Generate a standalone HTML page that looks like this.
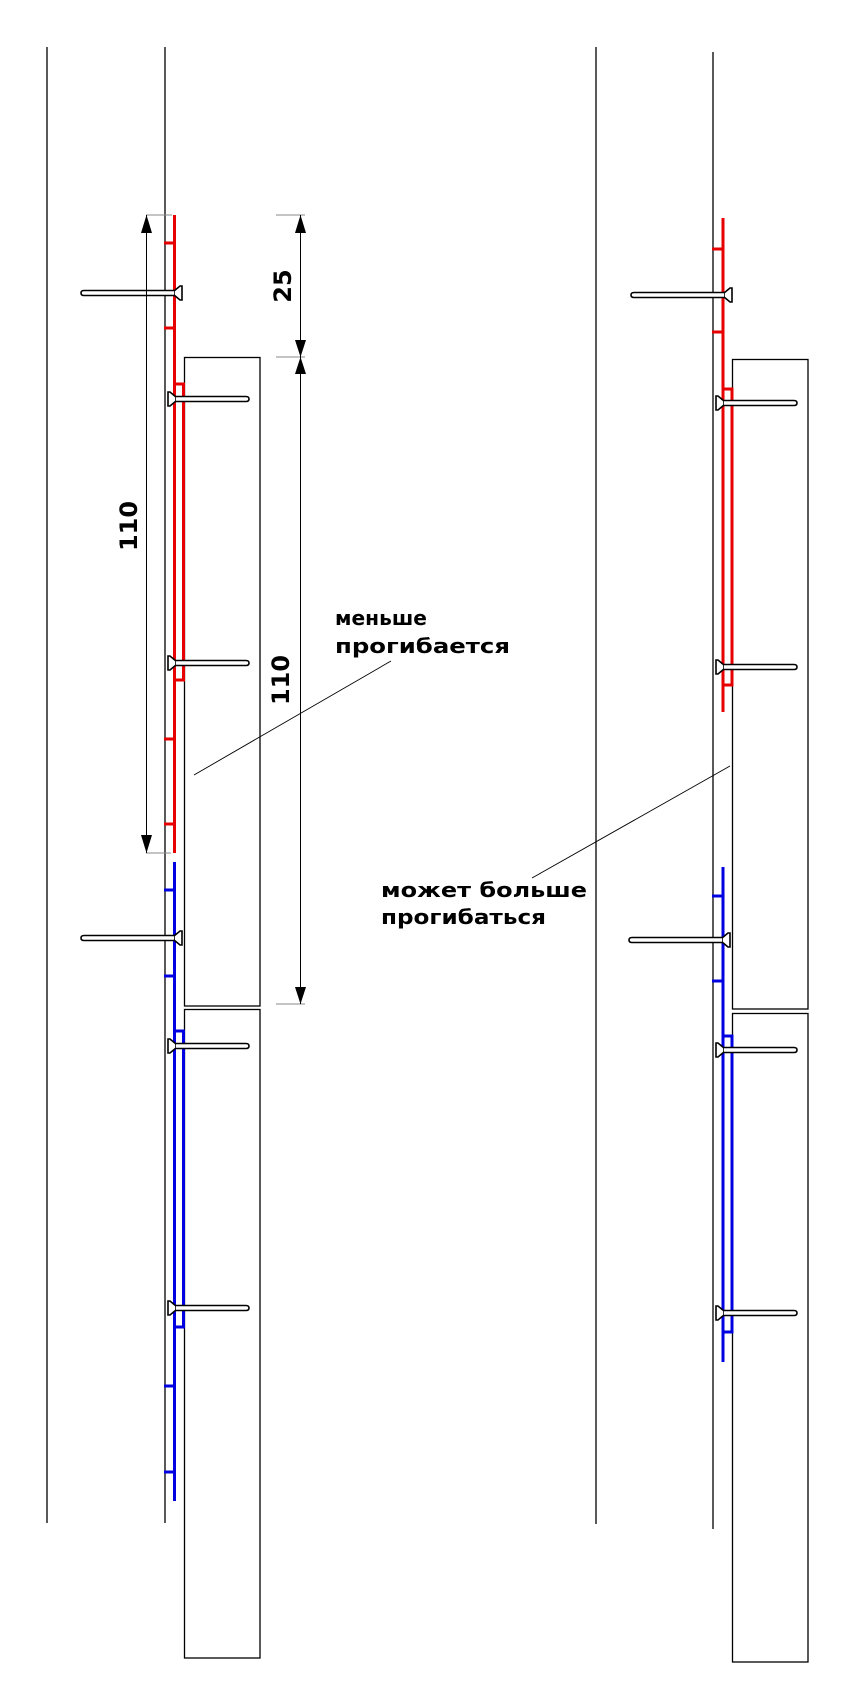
<!DOCTYPE html>
<html><head><meta charset="utf-8"><style>
html,body{margin:0;padding:0;background:#fff;}
svg{display:block;}
text{font-family:"DejaVu Sans","Liberation Sans",sans-serif;font-weight:bold;fill:#000;}
</style></head><body>
<svg width="855" height="1708" viewBox="0 0 855 1708" xmlns="http://www.w3.org/2000/svg">
<defs>
<g id="nL">
<path d="M0,-7 L0,7 L2,7 L8,2 L8,-2 L2,-7 Z" fill="#fff" stroke="#000" stroke-width="1.6"/>
<path d="M8,-2.5 L78,-2.5 Q81,-2.5 81,0 Q81,2.5 78,2.5 L8,2.5" fill="#fff" stroke="#000" stroke-width="1.6"/>
</g>
<g id="nR">
<path d="M0,-7 L0,7 L-2,7 L-8,2 L-8,-2 L-2,-7 Z" fill="#fff" stroke="#000" stroke-width="1.6"/>
<path d="M-8,-2.5 L-98,-2.5 Q-101,-2.5 -101,0 Q-101,2.5 -98,2.5 L-8,2.5" fill="#fff" stroke="#000" stroke-width="1.6"/>
</g>
</defs>
<g stroke="#000" stroke-width="1.3" fill="none">
<line x1="47" y1="47" x2="47" y2="1523"/>
<line x1="165" y1="47" x2="165" y2="1523"/>
<rect x="184.5" y="357.5" width="75.5" height="648.5"/>
<rect x="184.5" y="1009.5" width="75.5" height="648.5"/>
<line x1="596" y1="47" x2="596" y2="1524"/>
<line x1="713" y1="52" x2="713" y2="1529"/>
<rect x="732.5" y="359.5" width="75.5" height="649.5"/>
<rect x="732.5" y="1013.5" width="75.5" height="648.5"/>
</g>
<g stroke="#e60000" stroke-width="3" fill="none">
<line x1="174.5" y1="215" x2="174.5" y2="853"/>
<line x1="164" y1="243" x2="175" y2="243"/>
<line x1="164" y1="328" x2="175" y2="328"/>
<line x1="164" y1="739" x2="175" y2="739"/>
<line x1="164" y1="824" x2="175" y2="824"/>
<polyline points="174.5,384 183.5,384 183.5,680 174.5,680"/>
</g>
<g stroke="#0000e0" stroke-width="3" fill="none">
<line x1="174.5" y1="862" x2="174.5" y2="1501"/>
<line x1="164" y1="890" x2="175" y2="890"/>
<line x1="164" y1="976" x2="175" y2="976"/>
<line x1="164" y1="1386" x2="175" y2="1386"/>
<line x1="164" y1="1472" x2="175" y2="1472"/>
<polyline points="174.5,1031 183.5,1031 183.5,1327 174.5,1327"/>
</g>
<g stroke="#e60000" stroke-width="3" fill="none">
<line x1="723" y1="218" x2="723" y2="712"/>
<line x1="712" y1="249" x2="723" y2="249"/>
<line x1="712" y1="332" x2="723" y2="332"/>
<polyline points="723,389 732,389 732,685 723,685"/>
</g>
<g stroke="#0000e0" stroke-width="3" fill="none">
<line x1="723" y1="867" x2="723" y2="1362"/>
<line x1="712" y1="896" x2="723" y2="896"/>
<line x1="712" y1="981" x2="723" y2="981"/>
<polyline points="723,1036 732,1036 732,1332 723,1332"/>
</g>
<use href="#nR" x="182" y="293"/>
<use href="#nL" x="168" y="399"/>
<use href="#nL" x="168" y="663"/>
<use href="#nR" x="182" y="938"/>
<use href="#nL" x="168" y="1046"/>
<use href="#nL" x="168" y="1308"/>
<use href="#nR" x="732" y="295"/>
<use href="#nL" x="716" y="403"/>
<use href="#nL" x="716" y="667"/>
<use href="#nR" x="730" y="940"/>
<use href="#nL" x="716" y="1050"/>
<use href="#nL" x="716" y="1313"/>
<g stroke="#888" stroke-width="1">
<line x1="146" y1="215" x2="172" y2="215"/>
<line x1="146" y1="853" x2="171" y2="853"/>
<line x1="276" y1="215" x2="305" y2="215"/>
<line x1="276" y1="357" x2="305" y2="357"/>
<line x1="276" y1="1004" x2="305" y2="1004"/>
</g>
<g stroke="#000" stroke-width="1">
<line x1="146.5" y1="215" x2="146.5" y2="853"/>
<line x1="300.5" y1="215" x2="300.5" y2="1004"/>
</g>
<g fill="#000">
<path d="M146.5,215 L141,233 L152,233 Z"/>
<path d="M146.5,853 L141,835 L152,835 Z"/>
<path d="M300.5,215 L295,233 L306,233 Z"/>
<path d="M300.5,357 L295,340 L306,340 Z"/>
<path d="M300.5,357 L295,374 L306,374 Z"/>
<path d="M300.5,1004 L295,987 L306,987 Z"/>
</g>
<text font-size="24" transform="translate(137,526) rotate(-90)" text-anchor="middle">110</text>
<text font-size="24" transform="translate(289,680) rotate(-90)" text-anchor="middle">110</text>
<text font-size="24" transform="translate(291,286) rotate(-90)" text-anchor="middle">25</text>
<g stroke="#000" stroke-width="0.9">
<line x1="194" y1="775" x2="391" y2="661"/>
<line x1="730" y1="766" x2="532" y2="878"/>
</g>
<text font-size="20" x="335" y="625" textLength="92" lengthAdjust="spacingAndGlyphs">меньше</text>
<text font-size="20" x="335" y="653" textLength="175" lengthAdjust="spacingAndGlyphs">прогибается</text>
<text font-size="20" x="381" y="897" textLength="206" lengthAdjust="spacingAndGlyphs">может больше</text>
<text font-size="20" x="381" y="924" textLength="165" lengthAdjust="spacingAndGlyphs">прогибаться</text>
</svg>
</body></html>
